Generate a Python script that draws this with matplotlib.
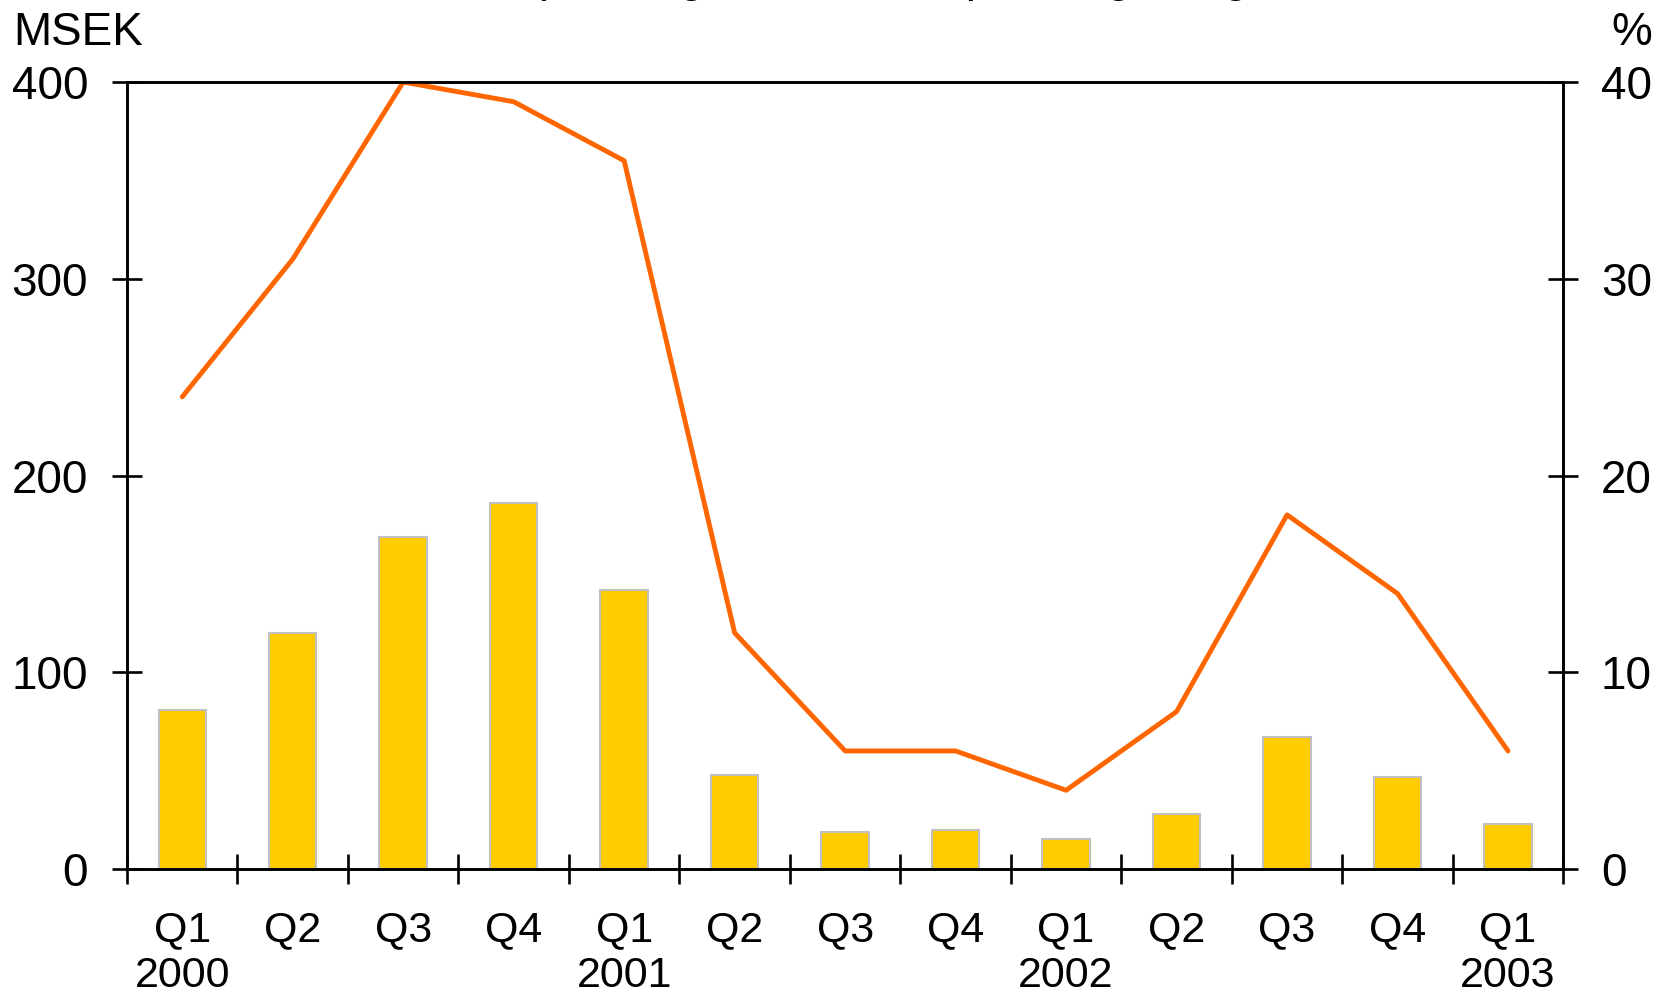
import matplotlib
matplotlib.use("Agg")
import matplotlib.pyplot as plt
import numpy as np

quarters = ["Q1", "Q2", "Q3", "Q4", "Q1", "Q2", "Q3", "Q4", "Q1", "Q2", "Q3", "Q4", "Q1"]
years = ["2000", "", "", "", "2001", "", "", "", "2002", "", "", "", "2003"]
operating_profit = [81, 120, 169, 186, 142, 48, 19, 20, 15, 28, 67, 47, 23]  # MSEK
operating_margin = [24, 31, 40, 39, 36, 12, 6, 6, 4, 8, 18, 14, 6]  # %

BAR_COLOR = "#FFCC00"
LINE_COLOR = "#FF6600"
FS = 33

plt.rcParams["font.family"] = ["Liberation Sans", "DejaVu Sans"]

fig = plt.figure(figsize=(16.56, 9.97), dpi=100)
ax = fig.add_axes([0.0767, 0.1284, 0.944 - 0.0767, 0.9177 - 0.1284])
ax2 = ax.twinx()

x = np.arange(len(quarters))
bars = ax.bar(x, operating_profit, width=0.43, color=BAR_COLOR,
              edgecolor="#c0c0c0", linewidth=1.5, label="Operating Profit", zorder=2)
line, = ax2.plot(x, operating_margin, color=LINE_COLOR, linewidth=3.5,
                 label="Operating Margin", solid_capstyle="round")

ax.set_xlim(-0.5, len(quarters) - 0.5)
ax.set_ylim(0, 400)
ax2.set_ylim(0, 40)
ax.set_yticks([0, 100, 200, 300, 400])
ax2.set_yticks([0, 10, 20, 30, 40])

# tick marks on category boundaries, labels on bar centres
ax.set_xticks(np.arange(-0.5, len(quarters), 1.0))
ax.set_xticklabels([])
ax.set_xticks(x, minor=True)
ax.set_xticklabels([q + ("\n" + y if y else "") for q, y in zip(quarters, years)],
                   minor=True, linespacing=1.17, fontsize=31)
ax.tick_params(axis="x", which="major", direction="inout", length=22, width=1.9)
ax.tick_params(axis="x", which="minor", length=0, pad=30)
ax.tick_params(axis="y", direction="inout", length=22, width=1.9, pad=17, labelsize=FS)
ax2.tick_params(axis="y", direction="inout", length=22, width=1.9, pad=16, labelsize=FS)

for a in (ax, ax2):
    for s in a.spines.values():
        s.set_linewidth(1.9)

fig.text(13 / 1656, 1 - 45 / 997, "MSEK", fontsize=FS, ha="left", va="baseline")
fig.text(1652 / 1656, 1 - 45 / 997, "%", fontsize=FS, ha="right", va="baseline")

# legend sits mostly above the canvas, as in the original
fig.legend([bars, line], ["Operating Profit", "Operating Margin"],
           loc="lower center", bbox_to_anchor=(0.515, 0.976), ncol=2,
           frameon=False, fontsize=FS, borderpad=0, handlelength=1.4,
           handletextpad=0.4, columnspacing=0.5)

fig.savefig("out.png", dpi=100)
